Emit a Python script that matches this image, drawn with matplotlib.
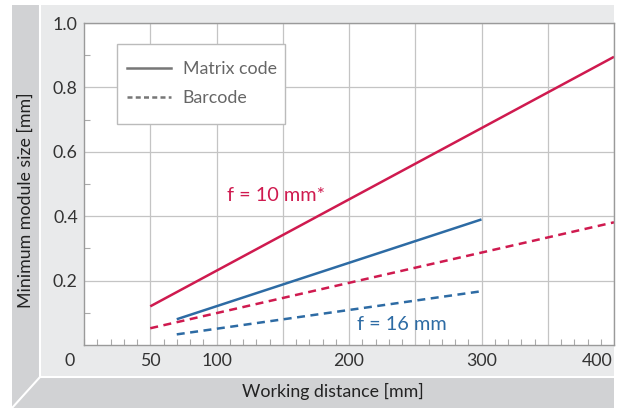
import numpy as np
import matplotlib
matplotlib.use("Agg")
import matplotlib.pyplot as plt
from matplotlib.patches import Polygon, Rectangle
from matplotlib.transforms import ScaledTranslation

plt.rcParams['font.family'] = ['Lato', 'DejaVu Sans']

# data: straight lines, start and end points
dist_f10 = [50, 400]
matrix_f10 = [0.12, 0.895]
barcode_f10 = [0.052, 0.381]
dist_f16 = [70, 300]
matrix_f16 = [0.08, 0.39]
barcode_f16 = [0.033, 0.167]

x_labels = {0: "0", 50: "50", 100: "100", 200: "200", 300: "300", 400: "400"}
y_labels = [0.2, 0.4, 0.6, 0.8, 1.0]

red = "#cf1a4f"
blue = "#2d6ba4"

W, H = 618, 408
fig = plt.figure(figsize=(W / 100, H / 100), dpi=100)
fig.patch.set_facecolor("white")

def px(points):
    return [(x / W, 1 - y / H) for x, y in points]

# grey frame with bevel
light = "#e9eaeb"
dark = "#d1d2d4"
frame = [
    ([(12, 5), (614, 5), (614, 377), (40, 377), (40, 5)], light),
    ([(12, 5), (40, 5), (40, 377), (12, 408)], dark),
    ([(12, 408), (40, 377), (614, 377), (614, 408)], dark),
]
for pts, c in frame:
    fig.patches.append(Polygon(px(pts), closed=True, transform=fig.transFigure,
                               fc=c, ec="none", zorder=-10))
fig.lines.append(plt.Line2D([40 / W, 40 / W, 614 / W], [1 - 5 / H, 1 - 377 / H, 1 - 377 / H],
                            transform=fig.transFigure, color="white", lw=1.5, zorder=-9))
fig.lines.append(plt.Line2D([12 / W, 40 / W], [1 - 408 / H, 1 - 377 / H],
                            transform=fig.transFigure, color="white", lw=1.5, zorder=-9))

ax = fig.add_axes([84 / W, 1 - 345 / H, 530 / W, 322 / H])
ax.set_facecolor("white")

ax.plot(dist_f10, matrix_f10, color=red, lw=1.8, solid_capstyle="butt")
ax.plot(dist_f10, barcode_f10, color=red, lw=1.8, ls=(0, (3.2, 2.2)))
ax.plot(dist_f16, matrix_f16, color=blue, lw=1.8, solid_capstyle="butt")
ax.plot(dist_f16, barcode_f16, color=blue, lw=1.8, ls=(0, (3.2, 2.2)))

ax.set_xlim(0, 400)
ax.set_ylim(0, 1.0)

ax.set_xticks(np.arange(50, 401, 50))
ax.set_xticks(np.arange(0, 401, 10), minor=True)
ax.set_yticks(np.arange(0.2, 1.01, 0.2))
ax.set_yticks(np.arange(0.1, 1.0, 0.2), minor=True)
ax.grid(True, which="major", color="#c4c4c4", lw=0.9)
ax.tick_params(which="major", length=0, labelsize=12.8, labelcolor="#333333", pad=4.5)
ax.tick_params(which="minor", direction="in", length=4, color="#aaaaaa", width=0.8)
ax.set_yticklabels([f"{v:.1f}" for v in y_labels])
ax.set_xticklabels([])
for spine in ax.spines.values():
    spine.set_color("#9a9a9a")
    spine.set_linewidth(1.0)

# x tick labels placed below axis
for v, s in x_labels.items():
    t = ax.text(v, -0.025, s, transform=ax.get_xaxis_transform(), ha="center", va="top",
                fontsize=12.8, color="#333333")
    if v == 0:
        t.set_transform(t.get_transform() + ScaledTranslation(-0.14, 0, fig.dpi_scale_trans))
    if v == 400:
        t.set_transform(t.get_transform() + ScaledTranslation(-0.17, 0, fig.dpi_scale_trans))

fig.text(333 / W, 1 - 391 / H, "Working distance [mm]", ha="center", va="center",
         fontsize=12.8, color="#222222")
fig.text(26 / W, 1 - 200 / H, "Minimum module size [mm]", ha="center", va="center",
         rotation=90, fontsize=12.8, color="#222222")

ax.annotate("f = 10 mm*", xy=(108, 0.465), color=red, fontsize=14.3, ha="left", va="center")
ax.annotate("f = 16 mm", xy=(206, 0.065), color=blue, fontsize=14.3, ha="left", va="center")

# legend box
ax.add_patch(Rectangle((33 / 530, 1 - 101 / 322), 168 / 530, 80 / 322, transform=ax.transAxes,
                       fc="white", ec="#bbbbbb", lw=1.0, zorder=4))
legend_handles = [plt.Line2D([], [], color="#777777", lw=1.8),
                  plt.Line2D([], [], color="#777777", lw=1.8, ls=(0, (2, 1.3)))]
leg = ax.legend(legend_handles, ["Matrix code", "Barcode"], loc="upper left",
                bbox_to_anchor=(43 / 530, 1 - 38 / 322), fontsize=12.8, frameon=False,
                handlelength=2.47, handletextpad=0.67, borderpad=0, labelspacing=0.72,
                borderaxespad=0)
leg.set_zorder(5)
for t in leg.get_texts():
    t.set_color("#666666")

fig.savefig("out.png", dpi=100)
